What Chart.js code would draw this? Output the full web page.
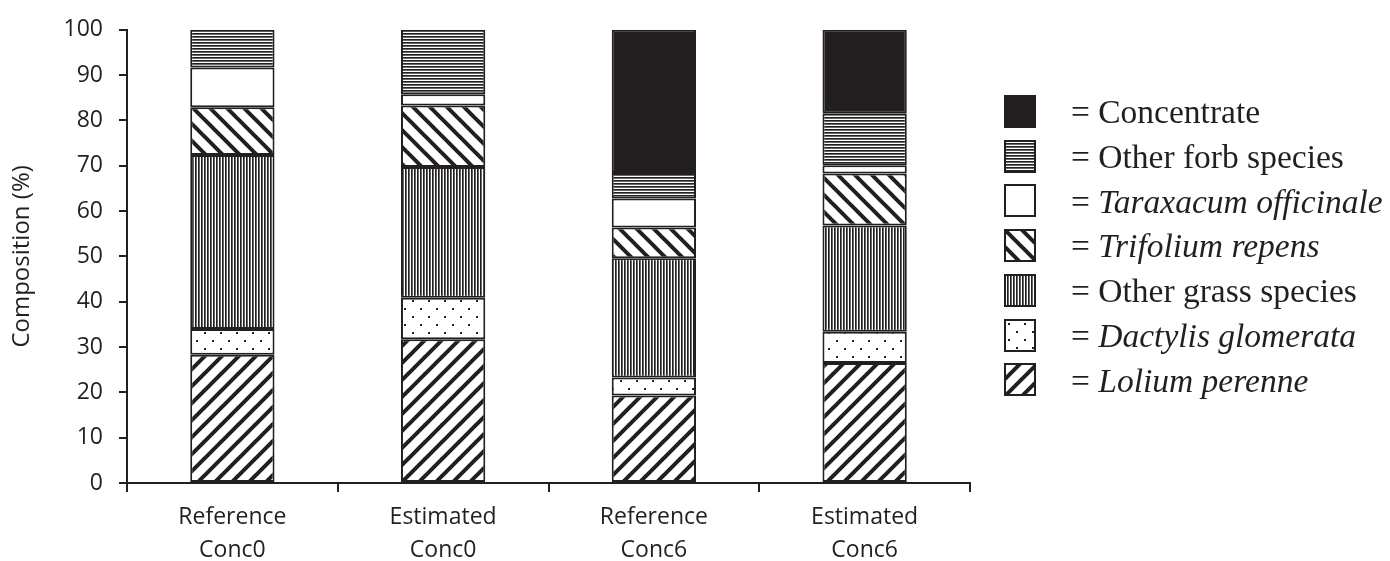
<!DOCTYPE html>
<html>
<head>
<meta charset="utf-8">
<script src="https://cdn.jsdelivr.net/npm/chart.js@4"></script>
<style>
  html, body { margin: 0; padding: 0; background: #fff; }
  #wrap { position: relative; width: 1390px; height: 561px; }
  #chart { position: absolute; left: 0; top: 0; }
  .lg-sw { position: absolute; }
  .lg-tx { position: absolute; font-family: 'Liberation Serif', 'Times New Roman', serif; font-size: 33.5px; line-height: 38px; color: #231f20; white-space: nowrap; }
  .lg-tx i { font-style: italic; }
</style>
</head>
<body>
<div id="wrap">
  <canvas id="chart" width="1390" height="561"></canvas>
  <div id="legend"></div>
</div>
<script>
// ---- data ----
const categories = [['Reference', 'Conc0'], ['Estimated', 'Conc0'], ['Reference', 'Conc6'], ['Estimated', 'Conc6']];
const loliumPerenne      = [28.3, 31.7, 19.3, 26.5];
const dactylisGlomerata  = [5.7, 9.2, 4.0, 6.9];
const otherGrassSpecies  = [38.4, 28.8, 26.3, 23.4];
const trifoliumRepens    = [10.5, 13.6, 6.8, 11.5];
const taraxacumOfficinale= [8.8, 2.5, 6.4, 1.8];
const otherForbSpecies   = [8.3, 14.2, 5.6, 11.5];
const concentrate        = [0, 0, 31.6, 18.4];
const yTicks = [0, 10, 20, 30, 40, 50, 60, 70, 80, 90, 100];

const INK = '#231f20';

// ---- patterns ----
function tile(w, h, draw) {
  const c = document.createElement('canvas');
  c.width = w; c.height = h;
  const g = c.getContext('2d');
  g.fillStyle = '#fff'; g.fillRect(0, 0, w, h);
  draw(g, w, h);
  return c;
}
function pattern(type) {
  const ctx = document.createElement('canvas').getContext('2d');
  let t;
  if (type === 'solid') return INK;
  if (type === 'white') return '#ffffff';
  if (type === 'hlines') {
    t = tile(4, 3, (g) => { g.fillStyle = INK; g.fillRect(0, 0, 4, 1); g.fillStyle = '#666'; g.fillRect(0, 1, 4, 1); });
  } else if (type === 'vlines') {
    t = tile(3, 4, (g) => { g.fillStyle = INK; g.fillRect(0, 0, 1, 4); g.fillStyle = '#666'; g.fillRect(1, 0, 1, 4); });
  } else if (type === 'fslash' || type === 'bslash') {
    const s = 17;
    t = tile(s, s, (g) => {
      g.strokeStyle = INK; g.lineWidth = 4; g.lineCap = 'square';
      for (let k = -1; k <= 1; k++) {
        g.beginPath();
        if (type === 'fslash') { g.moveTo(k * s, s); g.lineTo(k * s + s, 0); }
        else { g.moveTo(k * s, 0); g.lineTo(k * s + s, s); }
        g.stroke();
      }
    });
  } else if (type === 'dots') {
    t = tile(16, 16, (g) => { g.fillStyle = INK; g.fillRect(4, 4, 2, 2); g.fillRect(12, 12, 2, 2); });
  }
  return ctx.createPattern(t, 'repeat');
}

const series = [
  { label: 'Lolium perenne', italic: true, data: loliumPerenne, pat: 'fslash' },
  { label: 'Dactylis glomerata', italic: true, data: dactylisGlomerata, pat: 'dots' },
  { label: 'Other grass species', italic: false, data: otherGrassSpecies, pat: 'vlines' },
  { label: 'Trifolium repens', italic: true, data: trifoliumRepens, pat: 'bslash' },
  { label: 'Taraxacum officinale', italic: true, data: taraxacumOfficinale, pat: 'white' },
  { label: 'Other forb species', italic: false, data: otherForbSpecies, pat: 'hlines' },
  { label: 'Concentrate', italic: false, data: concentrate, pat: 'solid' }
];

Chart.defaults.font.family = "'Open Sans', sans-serif";
Chart.defaults.font.size = 23;
Chart.defaults.color = INK;

const datasets = series.map(s => ({
  label: s.label,
  data: s.data,
  backgroundColor: pattern(s.pat),
  borderColor: INK,
  borderWidth: 2,
  borderSkipped: false,
  barPercentage: 0.4,
  categoryPercentage: 1.0
}));

new Chart(document.getElementById('chart'), {
  type: 'bar',
  data: { labels: categories, datasets },
  options: {
    responsive: false,
    animation: false,
    devicePixelRatio: 1,
    layout: { padding: { left: 0, right: 420, top: 27, bottom: 0 } },
    plugins: { legend: { display: false }, tooltip: { enabled: false } },
    scales: {
      x: {
        stacked: true,
        grid: { offset: true, drawOnChartArea: false, drawTicks: true, tickLength: 9, color: INK, lineWidth: 2 },
        border: { display: true, color: INK, width: 2 },
        ticks: { padding: 9, font: { size: 23, lineHeight: 1.43 }, color: INK },
        afterFit: (s) => { s.height = 78; }
      },
      y: {
        stacked: true,
        min: 0, max: 100,
        afterBuildTicks: (s) => { s.ticks = yTicks.map(v => ({ value: v })); },
        grid: { drawOnChartArea: false, drawTicks: true, tickLength: 8, color: INK, lineWidth: 2 },
        border: { display: true, color: INK, width: 2 },
        ticks: { padding: 16, font: { size: 23 }, color: INK },
        title: { display: true, text: 'Composition (%)', font: { size: 24 }, color: INK, padding: { top: 8, bottom: 0 } },
        afterFit: (s) => { s.width = 127; }
      }
    }
  }
});

// ---- legend (HTML, reversed order) ----
const lg = document.getElementById('legend');
const items = series.slice().reverse();
items.forEach((s, i) => {
  const sw = document.createElement('canvas');
  sw.width = 32; sw.height = 33;
  sw.className = 'lg-sw';
  sw.style.left = '1004px';
  sw.style.top = (95 + i * 44.7) + 'px';
  const g = sw.getContext('2d');
  g.fillStyle = pattern(s.pat);
  g.fillRect(0, 0, 32, 33);
  g.strokeStyle = INK; g.lineWidth = 2;
  g.strokeRect(1, 1, 30, 31);
  lg.appendChild(sw);
  const tx = document.createElement('div');
  tx.className = 'lg-tx';
  tx.style.left = '1071px';
  tx.style.top = (113 + i * 44.8 - 20) + 'px';
  tx.innerHTML = '= ' + (s.italic ? '<i>' + s.label + '</i>' : s.label);
  lg.appendChild(tx);
});
</script>
</body>
</html>
